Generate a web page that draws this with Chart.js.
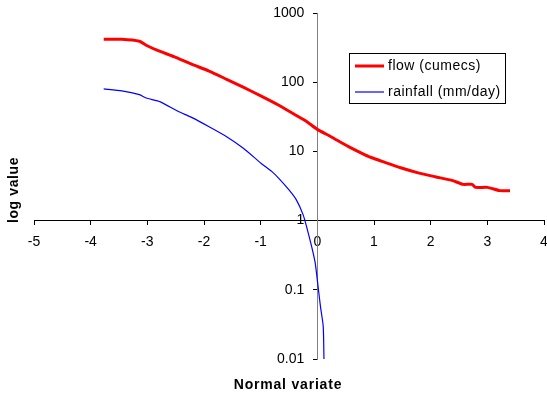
<!DOCTYPE html>
<html>
<head>
<meta charset="utf-8">
<script src="https://cdn.jsdelivr.net/npm/chart.js@4/dist/chart.umd.min.js"></script>
<style>
html,body{margin:0;padding:0;background:#fff;}
#wrap{width:547px;height:398px;}
</style>
</head>
<body>
<div id="wrap"><canvas id="c" width="547" height="398"></canvas></div>
<script>
// ---- data ----
const xTicks = [-5, -4, -3, -2, -1, 0, 1, 2, 3, 4];
const yTicks = [0.01, 0.1, 1, 10, 100, 1000];

const flowX = [-3.77, -3.45, -3.14, -3.02, -2.83, -2.52, -2.22, -1.91, -1.60, -1.30, -0.99, -0.68, -0.37, -0.19, 0.0, 0.24, 0.55, 0.85, 1.0, 1.16, 1.47, 1.78, 2.08, 2.39, 2.57, 2.73, 2.79, 3.0, 3.22, 3.40];
const flowY = [417, 417, 390, 342, 290, 232, 182, 145, 110, 84, 63, 46.5, 33, 27, 20.8, 16.3, 11.7, 8.85, 7.9, 7.1, 5.8, 4.9, 4.3, 3.78, 3.34, 3.34, 3.02, 3.02, 2.71, 2.71];

const rainX = [-3.77, -3.45, -3.14, -3.02, -2.77, -2.46, -2.22, -1.91, -1.60, -1.30, -0.99, -0.80, -0.68, -0.50, -0.37, -0.25, -0.19, -0.10, -0.037, 0.006, 0.055, 0.104, 0.117];
const rainY = [80, 75, 66, 59, 52, 38, 31, 22.7, 16.3, 11, 6.7, 5.1, 4.07, 2.77, 1.99, 1.21, 0.82, 0.42, 0.243, 0.125, 0.0575, 0.0296, 0.01];

const flowLabel = 'flow (cumecs)';
const rainLabel = 'rainfall (mm/day)';
const xTitle = 'Normal variate';
const yTitle = 'log value';

const FONT = '"Liberation Sans", Arial, sans-serif';

const toPts = (xs, ys) => xs.map((x, i) => ({x: x, y: ys[i]}));

const decor = {
  id: 'decor',
  afterDraw(chart) {
    const ctx = chart.ctx;
    ctx.save();
    // axis titles
    ctx.fillStyle = '#000';
    ctx.font = 'bold 14px ' + FONT;
    ctx.textAlign = 'center';
    ctx.textBaseline = 'middle';
    ctx.letterSpacing = '0.8px';
    ctx.fillText(xTitle, 288, 385);
    ctx.save();
    ctx.letterSpacing = '0.6px';
    ctx.translate(14, 190);
    ctx.rotate(-Math.PI / 2);
    ctx.fillText(yTitle, 0, 0);
    ctx.restore();
    // legend
    const bx = 349.5, by = 53.5, bw = 156, bh = 50;
    ctx.fillStyle = '#fff';
    ctx.fillRect(bx, by, bw, bh);
    ctx.strokeStyle = '#000';
    ctx.lineWidth = 1;
    ctx.strokeRect(bx, by, bw, bh);
    const items = chart.data.datasets;
    const rows = [66, 92];
    ctx.font = '14px ' + FONT;
    ctx.letterSpacing = '0.5px';
    ctx.textAlign = 'left';
    items.forEach((ds, i) => {
      ctx.strokeStyle = ds.borderColor;
      ctx.lineWidth = ds.borderWidth;
      ctx.beginPath();
      ctx.moveTo(355, rows[i]);
      ctx.lineTo(384, rows[i]);
      ctx.stroke();
      ctx.fillStyle = '#000';
      ctx.fillText(ds.label, 388, rows[i]);
    });
    ctx.restore();
  }
};

new Chart(document.getElementById('c'), {
  type: 'scatter',
  data: {
    datasets: [
      {label: flowLabel, data: toPts(flowX, flowY), showLine: true, borderColor: '#ff0000', borderWidth: 3, pointRadius: 0, tension: 0.2, fill: false},
      {label: rainLabel, data: toPts(rainX, rainY), showLine: true, borderColor: '#0000ff', borderWidth: 1.2, pointRadius: 0, tension: 0.2, fill: false}
    ]
  },
  options: {
    responsive: false,
    animation: false,
    devicePixelRatio: 1,
    layout: {padding: {left: 34, top: 13, right: 3, bottom: 39}},
    plugins: {legend: {display: false}, tooltip: {enabled: false}},
    scales: {
      x: {
        type: 'linear', min: -5, max: 4,
        position: {y: 1},
        afterBuildTicks: (s) => { s.ticks = xTicks.map(v => ({value: v})); },
        afterFit: (s) => { s.paddingLeft = 0; s.paddingRight = 0; },
        ticks: {color: '#000', font: {family: FONT, size: 14}, padding: 9, maxRotation: 0, autoSkip: false, callback: (v) => String(v)},
        grid: {drawOnChartArea: false, drawTicks: true, tickLength: 4, color: '#000'},
        border: {display: true, color: '#000', width: 1}
      },
      y: {
        type: 'logarithmic', min: 0.01, max: 1000,
        position: {x: 0},
        afterBuildTicks: (s) => { s.ticks = yTicks.map(v => ({value: v})); },
        afterFit: (s) => { s.paddingTop = 0; s.paddingBottom = 0; },
        afterUpdate: (s) => {
          if (!s._shifted) {
            const orig = s.drawLabels;
            s.drawLabels = function (area) {
              const c = this.ctx;
              c.save();
              c.translate(-13, 0);
              orig.call(this, area);
              c.restore();
            };
            s._shifted = true;
          }
        },
        ticks: {color: '#000', font: {family: FONT, size: 14}, padding: 6, autoSkip: false, callback: (v) => String(v)},
        grid: {drawOnChartArea: false, drawTicks: true, tickLength: 4, color: '#000'},
        border: {display: true, color: '#808080', width: 1}
      }
    }
  },
  plugins: [decor]
});
</script>
</body>
</html>
